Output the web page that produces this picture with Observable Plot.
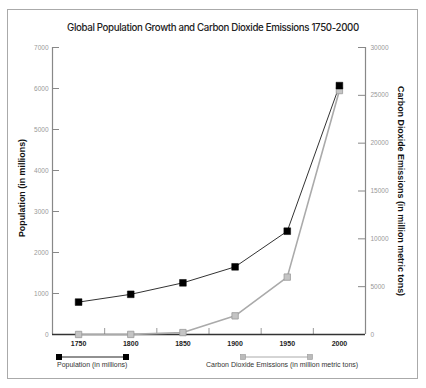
<!DOCTYPE html>
<html><head><meta charset="utf-8">
<script src="https://cdn.jsdelivr.net/npm/d3@7"></script>
<script src="https://cdn.jsdelivr.net/npm/@observablehq/plot@0.6"></script>
<style>
body{margin:0;background:#fff;}
#wrap{position:relative;width:426px;height:388px;font-family:Inter,"DejaVu Sans",sans-serif;}
#border{position:absolute;left:7px;top:9px;width:409px;height:368px;border:1.5px solid #aaa;}
#title{position:absolute;left:0;width:426px;top:22px;text-align:center;font-size:9.7px;letter-spacing:-0.35px;color:#222;font-weight:500;}
#chart{position:absolute;left:0;top:0;}
.leg{position:absolute;font-size:7px;color:#333;font-family:Arial,"Liberation Sans",sans-serif;white-space:nowrap;}
</style></head>
<body><div id="wrap"><div id="border"></div><div id="title">Global Population Growth and Carbon Dioxide Emissions 1750-2000</div><div id="chart"></div>
<svg id="legsvg" width="426" height="388" style="position:absolute;left:0;top:0;pointer-events:none"></svg>
<div class="leg" style="left:57px;top:361px">Population (in millions)</div>
<div class="leg" style="left:206px;top:361px">Carbon Dioxide Emissions (in million metric tons)</div>
</div>
<script>
const years = [1750, 1800, 1850, 1900, 1950, 2000];
const population = [790, 980, 1260, 1650, 2520, 6070];
const co2 = [3, 8, 200, 1950, 6000, 25500];
const popTicks = [0, 1000, 2000, 3000, 4000, 5000, 6000, 7000];
const co2Ticks = [0, 5000, 10000, 15000, 20000, 25000, 30000];
const sepTicks = [1775, 1825, 1875, 1925, 1975];

const k = 7000 / 30000;
const popData = years.map((y, i) => ({year: y, value: population[i]}));
const co2Data = years.map((y, i) => ({year: y, value: co2[i] * k}));

const plot = Plot.plot({
  width: 426, height: 388,
  marginLeft: 52, marginRight: 61, marginTop: 47, marginBottom: 54,
  style: {fontFamily: "Arial, 'Liberation Sans', sans-serif", background: "transparent"},
  x: {domain: [1725, 2025], axis: null},
  y: {domain: [0, 7000], axis: null},
  marks: [
    Plot.ruleX([1725], {y1: 0, y2: 7000, stroke: "#888", strokeWidth: 1.2}),
    Plot.ruleX([2025], {y1: 0, y2: 7000, stroke: "#888", strokeWidth: 1.2}),
    Plot.tickY(popTicks, {y: d => d, stroke: "#888", insetRight: 306}),
    Plot.tickY(co2Ticks, {y: d => d * k, stroke: "#888", insetLeft: 306}),
    Plot.tickX(sepTicks, {x: d => d, stroke: "#999", insetTop: 281}),
    Plot.ruleY([0], {stroke: "#333", strokeWidth: 1.5}),
    Plot.axisY({anchor: "left", ticks: popTicks, tickSize: 0, tickPadding: 4, fontSize: 6.5, color: "#999", label: null, tickFormat: d => String(d)}),
    Plot.axisY({anchor: "right", ticks: co2Ticks.map(v => v * k), tickSize: 0, tickPadding: 5, fontSize: 6.5, color: "#999", label: null, tickFormat: d => String(Math.round(d / k))}),
    Plot.axisX({ticks: years, tickSize: 0, tickPadding: 7, fontSize: 7, fontWeight: "bold", color: "#222", label: null, tickFormat: d => String(d)}),
    Plot.text(["Population (in millions)"], {frameAnchor: "left", textAnchor: "middle", dx: -30, dy: -3, rotate: -90, fontSize: 8.9, fontWeight: "bold", fill: "#111"}),
    Plot.text(["Carbon Dioxide Emissions (in million metric tons)"], {frameAnchor: "right", textAnchor: "middle", dx: 35, rotate: 90, fontSize: 8.9, fontWeight: "bold", fill: "#111"}),
    Plot.line(co2Data, {x: "year", y: "value", stroke: "#aaa", strokeWidth: 1.6}),
    Plot.line(popData, {x: "year", y: "value", stroke: "#333", strokeWidth: 1}),
    Plot.dot(co2Data, {x: "year", y: "value", symbol: "square", r: 3.6, fill: "#c4c4c4", stroke: "#999", strokeWidth: 0.8}),
    Plot.dot(popData, {x: "year", y: "value", symbol: "square", r: 3.8, fill: "#000", stroke: "#000", strokeWidth: 0.5})
  ]
});
document.getElementById("chart").appendChild(plot);

// legend samples
const ls = d3.select("#legsvg");
ls.append("line").attr("x1", 59).attr("x2", 126).attr("y1", 357).attr("y2", 357).attr("stroke", "#222").attr("stroke-width", 1);
[59, 126].forEach(x => ls.append("rect").attr("x", x - 3).attr("y", 354).attr("width", 6).attr("height", 6).attr("fill", "#000"));
ls.append("line").attr("x1", 243).attr("x2", 310).attr("y1", 357).attr("y2", 357).attr("stroke", "#aaa").attr("stroke-width", 1);
[243, 310].forEach(x => ls.append("rect").attr("x", x - 2.5).attr("y", 354.5).attr("width", 5).attr("height", 5).attr("fill", "#bbb").attr("stroke", "#999").attr("stroke-width", 0.6));
</script>
</body></html>
